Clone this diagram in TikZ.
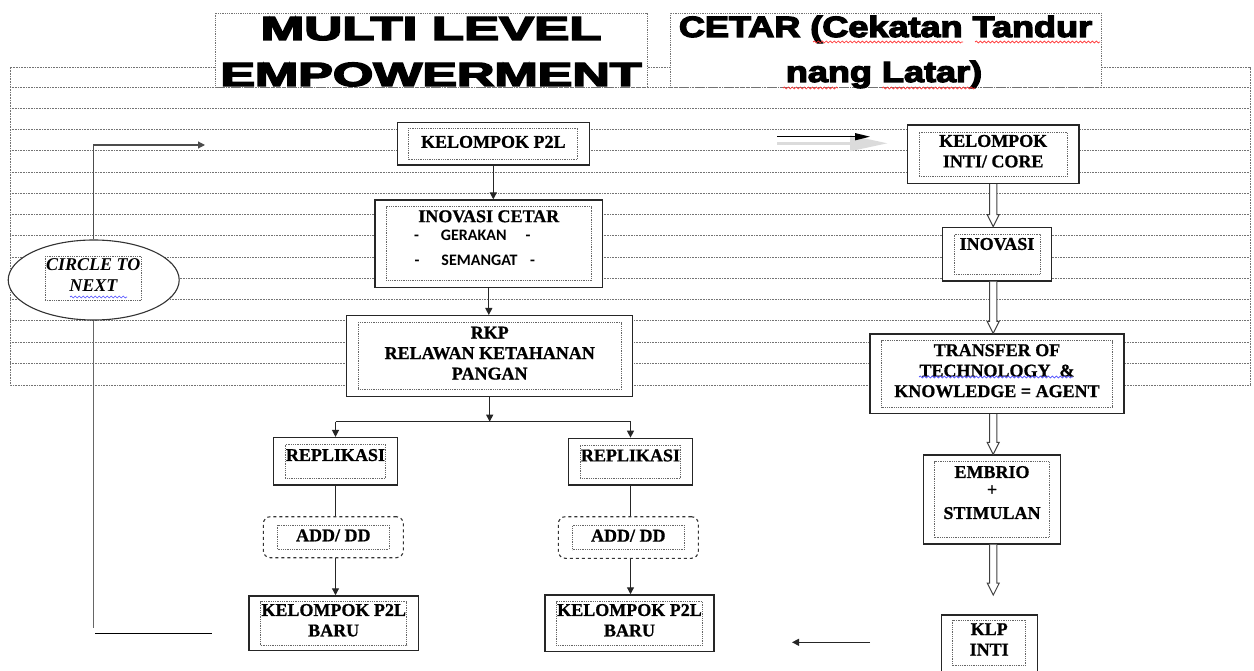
\documentclass[tikz,border=0pt]{standalone}
\usepackage{fontspec}
\setmainfont{Liberation Serif}[BoldFeatures={FakeBold=0.8}]
\newfontfamily\heavyfont{Liberation Sans}[BoldFeatures={FakeBold=4}]
\newfontfamily\calfont{Carlito}
\usetikzlibrary{calc,arrows.meta,shapes.geometric,decorations.pathmorphing}

\tikzset{
    % dotted ruling of the background frame
    stripe/.style={draw=black!55, dash pattern=on 1pt off 0.6pt, line width=1pt},
    % solid outer box, dotted inner text box
    outerbox/.style={draw=black!85, fill=white, line width=1.4pt, inner sep=0pt},
    innerbox/.style={draw=black!60, densely dotted, line width=0.8pt, inner sep=0pt,
        align=center, font=\fontsize{18}{20.5}\selectfont\bfseries,
        execute at begin node=\strut, execute at end node=\strut},
    dashbox/.style={draw=black!80, dashed, rounded corners=7pt, line width=1.1pt,
        fill=white, inner sep=0pt},
    ovalbox/.style={ellipse, draw=black!80, fill=white, line width=1.1pt, inner sep=0pt},
    % title boxes
    titlebox/.style={draw=black!55, densely dotted, line width=0.8pt, fill=white, inner sep=0pt},
    titletext/.style={font=\heavyfont\bfseries, inner sep=0pt, anchor=base},
    % connectors
    flow/.style={draw=black!85, line width=1.2pt, -{Triangle[length=7pt,width=7pt]}},
    link/.style={draw=black!85, line width=1.2pt},
    hollow/.style={draw=black!75, line width=1pt, fill=white},
    % spell check marks
    wavyred/.style={draw=red!80, line width=0.7pt, decorate,
        decoration={snake, segment length=4pt, amplitude=1pt}},
    wavyblue/.style={wavyred, draw=blue!70},
}

% hollow block arrow pointing down
\newcommand\hollowarrow[2]{%
  \draw[hollow] ($(#1)+(-3.6,0)$) -- ($(#2)+(-3.6,-12)$) -- ($(#2)+(-6,-12)$) -- (#2)
      -- ($(#2)+(6,-12)$) -- ($(#2)+(3.6,-12)$) -- ($(#1)+(3.6,0)$);}

\begin{document}
\begin{tikzpicture}[x=1pt,y=-1pt]
  \useasboundingbox (0,0) rectangle (1254,671);

  % --- ruled frame ---
  \draw[stripe] (10,68) rectangle (1250,385);
  \foreach \k in {0,...,13}{\draw[stripe] (10,87.3+21.23*\k) -- (1250,87.3+21.23*\k);}

  % --- titles ---
  \node[titlebox, minimum width=432, minimum height=74] (ttlML) at (431,50) {};
  \node[titletext, font=\heavyfont\bfseries\fontsize{33.5}{40}\selectfont] (ttlML1) at (431,40)
        {\scalebox{1.57}[1]{MULTI LEVEL}};
  \node[titletext, font=\heavyfont\bfseries\fontsize{33.5}{40}\selectfont] (ttlML2) at (431,86)
        {\scalebox{1.55}[1]{EMPOWERMENT}};
  \node[titlebox, minimum width=431, minimum height=74] (ttlC) at (885.5,50) {};
  \node[titletext, font=\heavyfont\bfseries\fontsize{29.3}{36}\selectfont] (ttlC1) at (885.5,37)
        {\scalebox{1.23}[1]{CETAR (Cekatan Tandur}};
  \node[titletext, font=\heavyfont\bfseries\fontsize{29.3}{36}\selectfont] (ttlC2) at (884,82)
        {\scalebox{1.23}[1]{nang Latar)}};
  \draw[wavyred] (813,42) -- (963,42);
  \draw[wavyred] (975,42) -- (1100,42);
  \draw[wavyred] (783,88) -- (838,88);
  \draw[wavyred] (882,88) -- (975,88);

  % --- middle column ---
  \node[outerbox, minimum width=192, minimum height=42.7] (kp2l) at (493.3,143.7) {};
  \node[innerbox, minimum width=169, minimum height=31] (kp2lIn) at (kp2l) {KELOMPOK P2L};

  \node[outerbox, minimum width=227.7, minimum height=87.3] (inov) at (488.8,243.7) {};
  \node[innerbox, minimum width=205, minimum height=74.3, text depth=12pt] (inovIn) at (inov)
        {INOVASI CETAR\\[-2pt]
         {\calfont\fontsize{16}{20.5}\selectfont -\hspace{22pt}GERAKAN\hspace{19pt}-\hspace*{33pt}\rule{0pt}{0pt}}\\[4pt]
         {\calfont\fontsize{16}{20.5}\selectfont -\hspace{22pt}SEMANGAT\hspace{12.5pt}-\hspace*{28pt}\rule{0pt}{0pt}}};

  \node[outerbox, minimum width=286, minimum height=81] (rkp) at (489.7,356.2) {};
  \node[innerbox, minimum width=263, minimum height=67] (rkpIn) at (rkp)
        {RKP\\RELAWAN KETAHANAN\\PANGAN};

  % --- two branches ---
  \node[outerbox, minimum width=124.4, minimum height=47.3] (repL) at (335.5,461.3) {};
  \node[innerbox, minimum width=100.7, minimum height=34, text depth=15pt] (repLIn) at (repL) {REPLIKASI};
  \node[outerbox, minimum width=124.4, minimum height=46.7] (repR) at (630.5,461.7) {};
  \node[innerbox, minimum width=100.7, minimum height=33.3, text depth=15pt] (repRIn) at (repR) {REPLIKASI};

  \node[dashbox, minimum width=140, minimum height=41] (addL) at (333.3,537.2) {};
  \node[innerbox, minimum width=111.3, minimum height=24.3] (addLIn) at (addL) {ADD/ DD};
  \node[dashbox, minimum width=140, minimum height=41.6] (addR) at (628.3,537.5) {};
  \node[innerbox, minimum width=111.6, minimum height=24.3] (addRIn) at (addR) {ADD/ DD};

  \node[outerbox, minimum width=169.3, minimum height=54.7] (baruL) at (333.7,623.3) {};
  \node[innerbox, minimum width=146, minimum height=43.3] (baruLIn) at (baruL) {KELOMPOK P2L\\BARU};
  \node[outerbox, minimum width=169, minimum height=56.7] (baruR) at (629.5,623.3) {};
  \node[innerbox, minimum width=146.7, minimum height=43.3] (baruRIn) at (baruR) {KELOMPOK P2L\\BARU};

  % --- right column ---
  \node[outerbox, minimum width=171.7, minimum height=58.3] (core) at (993.2,154.2) {};
  \node[innerbox, minimum width=148.4, minimum height=44] (coreIn) at (core) {KELOMPOK\\INTI/ CORE};

  \node[outerbox, minimum width=109.4, minimum height=53.7] (inovR) at (997,254.2) {};
  \node[innerbox, minimum width=86, minimum height=40, text depth=23pt] (inovRIn) at (inovR) {INOVASI};

  \node[outerbox, minimum width=254, minimum height=79.3] (tech) at (997,373.7) {};
  \node[innerbox, minimum width=230.7, minimum height=66.4] (techIn) at (tech)
        {TRANSFER OF\\TECHNOLOGY\ \ \&\\KNOWLEDGE = AGENT};
  \draw[wavyblue] (919,377) -- (1073,377);

  \node[outerbox, minimum width=137.4, minimum height=89] (embrio) at (992,499.5) {};
  \node[innerbox, minimum width=114.4, minimum height=75.6, text depth=14pt] (embrioIn) at (embrio)
        {EMBRIO\\[-3pt]+\\[3pt]STIMULAN};

  \node[outerbox, minimum width=96, minimum height=59] (klp) at (989.7,644.5) {};
  \node[innerbox, minimum width=73, minimum height=45] (klpIn) at (989.2,642.5) {KLP\\INTI};

  % --- circle to next ---
  \node[ovalbox, minimum width=171, minimum height=80] (circ) at (93.7,280) {};
  \node[innerbox, minimum width=96.7, minimum height=43.3, font=\fontsize{18}{20.5}\selectfont\bfseries\itshape]
        (circIn) at (93.3,278.3) {CIRCLE TO\\NEXT};
  \draw[wavyblue] (70,297) -- (127,297);

  % free ends
  \coordinate (loopTop) at (205,145);
  \coordinate (loopBot) at (95,628);
  \coordinate (retA) at (95,633.3);
  \coordinate (retB) at (212,633.3);
  \coordinate (split) at (488,421.7);
  \coordinate (klpTip) at (993.3,595);
  \coordinate (backS) at (870,642.3);
  \coordinate (backE) at (792,642.3);
  \coordinate (shA) at (777,136.7);
  \coordinate (shB) at (870,136.7);

  % --- connectors, middle ---
  \draw[flow] (kp2l.south) -- (kp2l.south |- inov.north);
  \draw[flow] (inov.south) -- (inov.south |- rkp.north);
  \draw[flow] (rkp.south) -- (rkp.south |- split);
  \draw[link] (split -| repL.north) -- (split -| repR.north);
  \draw[flow] (split -| repL.north) -- (repL.north);
  \draw[flow] (split -| repR.north) -- (repR.north);
  \draw[link] (repL.south) -- (repL.south |- addL.north);
  \draw[link] (repR.south) -- (repR.south |- addR.north);
  \draw[flow] (repL.south |- addL.south) -- (repL.south |- baruL.north);
  \draw[flow] (repR.south |- addR.south) -- (repR.south |- baruR.north);

  % --- connectors, right ---
  \hollowarrow{core.south}{core.south |- inovR.north}
  \hollowarrow{core.south |- inovR.south}{core.south |- tech.north}
  \hollowarrow{core.south |- tech.south}{core.south |- embrio.north}
  \hollowarrow{core.south |- embrio.south}{klpTip}
  \draw[flow] (backS) -- (backE);

  % arrow with soft shadow
  \draw[black!14, line width=3.5pt, -{Triangle[length=38pt,width=15pt]}] ($(shA)+(0,6.6)$) -- ($(shB)+(18,6.6)$);
  \draw[black, line width=1.3pt, -{Triangle[length=15pt,width=7pt]}] (shA) -- (shB);

  % --- loop back ---
  \draw[flow, draw=black!70] (circ.north) |- (loopTop);
  \draw[link, draw=black!60] (circ.south) -- (circ.south |- loopBot);
  \draw[link, draw=black] (retA) -- (retB);
\end{tikzpicture}
\end{document}
